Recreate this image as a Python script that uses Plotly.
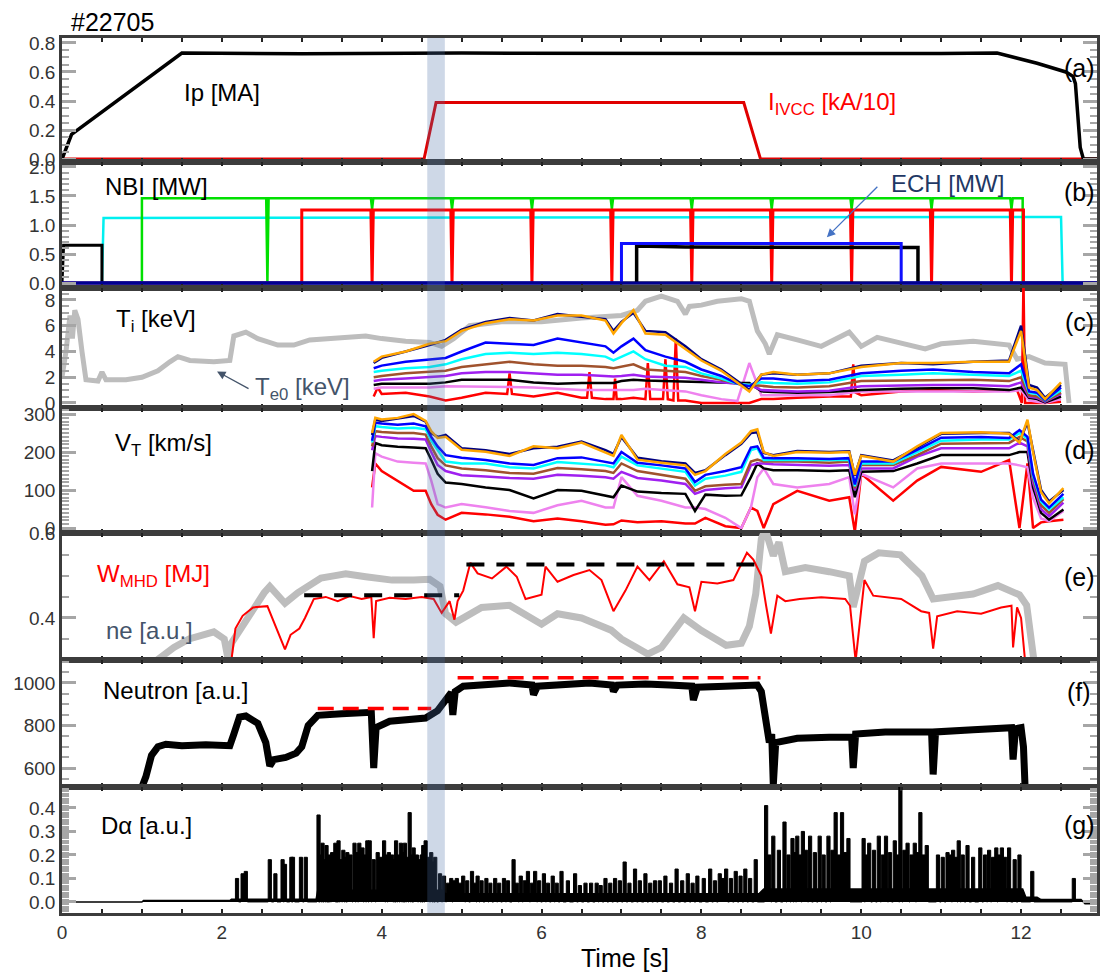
import plotly.graph_objects as go
from plotly.subplots import make_subplots

XMAX = 12.95

# ---------------- (a) plasma current and IVCC current ----------------
ip_t = [0.0, 0.12, 1.5, 3.0, 5.0, 7.0, 9.0, 11.0, 11.7, 12.2, 12.56, 12.65, 12.68, 12.71, 12.74, 12.78, 12.95]
ip_v = [0.0, 0.17, 0.73, 0.725, 0.73, 0.728, 0.73, 0.727, 0.73, 0.66, 0.6, 0.57, 0.52, 0.3, 0.08, 0.0, 0.0]
ivcc_t = [0.0, 4.53, 4.68, 8.53, 8.74, 12.95]
ivcc_v = [0.0, 0.0, 0.39, 0.39, 0.0, 0.0]

# ---------------- (b) NBI / ECH powers ----------------
nb_black_t = [0.0, 0.02, 0.5, 0.5, 12.95]
nb_black_v = [0.0, 0.65, 0.65, 0.0, 0.0]
nb_cyan_t = [0.0, 0.5, 0.52, 6.0, 12.5, 12.52, 12.95]
nb_cyan_v = [0.0, 0.0, 1.12, 1.13, 1.14, 0.0, 0.0]
nb_green_on, nb_green_off, nb_green_lvl = 1.0, 12.02, 1.46
nb_green_notch_t = [2.57, 3.88, 4.88, 5.88, 6.88, 7.88, 8.88, 9.88, 10.88, 11.88]
nb_green_notch_v = [0.0, 1.28, 1.28, 1.28, 1.28, 1.28, 1.28, 1.28, 1.28, 1.28]
nb_red_on, nb_red_off, nb_red_lvl = 3.0, 12.03, 1.26
nb_red_notch_t = [3.88, 4.88, 5.88, 6.88, 7.88, 8.88, 9.88, 10.88, 11.88]
nb_red_notch_v = [0.0, 0.0, 0.0, 0.0, 0.0, 0.0, 0.0, 0.0, 0.0]
ech_blue_t = [0.0, 7.0, 7.0, 10.5, 10.5, 12.95]
ech_blue_v = [0.0, 0.0, 0.68, 0.68, 0.0, 0.0]
ech_black_t = [7.19, 7.19, 7.8, 8.5, 9.3, 10.0, 10.71, 10.71]
ech_black_v = [0.0, 0.64, 0.62, 0.62, 0.61, 0.61, 0.61, 0.0]
nb_base_t = [0.0, 12.95]
nb_base_v = [0.0, 0.0]

# ---------------- (c) Ti profiles and Te0 ----------------
te_t = [0.0, 0.05, 0.1, 0.13, 0.16, 0.2, 0.25, 0.3, 0.45, 0.5, 0.55, 0.8, 1.0, 1.2, 1.35, 1.45, 1.6, 1.9,
        2.1, 2.15, 2.3, 2.45, 2.7, 2.9, 3.1, 3.3, 3.5, 3.8, 4.0, 4.3, 4.6, 4.75, 4.9, 5.1, 5.5, 6.0, 6.5,
        7.0, 7.2, 7.3, 7.5, 7.7, 7.8, 7.85, 8.0, 8.2, 8.5, 8.6, 8.7, 8.8, 8.85, 8.95, 9.2, 9.5, 9.85,
        10.0, 10.2, 10.5, 10.8, 11.0, 11.4, 11.85, 11.95, 12.1, 12.3, 12.55, 12.6]
te_v = [2.0, 4.0, 6.8, 5.0, 7.2, 6.5, 4.0, 1.8, 1.7, 2.4, 1.8, 1.8, 2.0, 2.5, 3.2, 3.6, 3.3, 3.2,
        3.3, 5.2, 5.5, 5.0, 4.5, 4.5, 4.9, 5.0, 5.1, 5.2, 5.0, 4.8, 4.7, 4.4, 5.0, 6.0, 6.3, 6.3, 6.6,
        6.8, 7.2, 7.9, 8.3, 7.9, 6.9, 7.5, 7.6, 7.9, 8.1, 7.9, 5.6, 4.6, 3.8, 5.3, 4.9, 4.4, 5.5,
        4.4, 5.1, 4.6, 4.2, 4.6, 4.8, 4.5, 3.4, 3.6, 3.1, 3.0, 0.0]

ti_t = [3.9, 4.0, 4.3, 4.6, 4.8, 5.0, 5.3, 5.6, 5.9, 6.2, 6.5, 6.8, 6.9, 7.0, 7.15, 7.3, 7.55, 7.8,
        8.0, 8.25, 8.45, 8.6, 8.75, 8.9, 9.2, 9.6, 10.0, 10.5, 10.9, 11.4, 11.85, 12.0, 12.1, 12.2, 12.3, 12.5]
ti_orange = [3.2, 3.6, 4.0, 4.6, 4.8, 5.6, 6.2, 6.5, 6.4, 6.8, 6.8, 6.4, 5.4, 6.2, 7.2, 5.4, 5.3, 4.2,
             3.3, 2.5, 1.6, 0.9, 2.2, 2.4, 2.2, 2.3, 2.8, 3.1, 3.1, 3.2, 3.2, 5.6, 1.2, 1.0, 0.3, 1.6]
ti_navy = [3.1, 3.5, 4.0, 4.5, 4.9, 5.7, 6.3, 6.6, 6.4, 6.9, 6.7, 6.5, 5.6, 6.3, 7.0, 5.6, 5.5, 4.4,
           3.4, 2.6, 1.7, 1.0, 2.2, 2.3, 2.2, 2.3, 2.9, 3.1, 3.0, 3.2, 3.3, 6.0, 1.4, 1.2, 0.4, 1.4]
ti_blue = [2.7, 2.9, 3.2, 3.4, 3.5, 4.0, 4.7, 4.6, 4.5, 5.0, 4.7, 4.4, 3.9, 4.4, 5.0, 4.1, 3.6, 3.2,
           2.6, 2.1, 1.5, 1.3, 1.9, 1.9, 1.7, 1.8, 2.3, 2.5, 2.6, 2.4, 2.3, 3.0, 0.9, 0.8, 0.2, 1.2]
ti_cyan = [2.4, 2.5, 2.7, 2.8, 3.0, 3.4, 3.8, 3.9, 3.8, 3.9, 3.8, 3.6, 3.3, 3.6, 4.0, 3.4, 2.9, 2.8,
           2.3, 1.9, 1.5, 1.4, 1.6, 1.55, 1.5, 1.6, 2.1, 2.2, 2.3, 2.2, 2.1, 2.5, 0.8, 0.7, 0.2, 1.0]
ti_brown = [2.0, 2.1, 2.3, 2.4, 2.5, 2.8, 3.0, 3.2, 3.0, 2.9, 2.9, 2.8, 2.7, 2.8, 3.0, 2.6, 2.5, 2.4,
            2.1, 1.8, 1.5, 1.4, 1.3, 1.25, 1.2, 1.3, 1.7, 1.75, 1.8, 1.8, 1.7, 2.0, 0.6, 0.5, 0.15, 0.8]
ti_purple = [1.7, 1.8, 1.9, 2.0, 2.1, 2.3, 2.4, 2.4, 2.3, 2.2, 2.2, 2.1, 2.06, 2.1, 2.2, 2.06, 2.0, 1.95,
             1.8, 1.6, 1.5, 1.4, 1.0, 0.95, 0.9, 0.95, 1.3, 1.35, 1.4, 1.4, 1.3, 1.6, 0.5, 0.4, 0.1, 0.7]
ti_black = [1.4, 1.5, 1.5, 1.5, 1.6, 1.8, 1.8, 1.8, 1.6, 1.5, 1.55, 1.55, 1.55, 1.7, 1.8, 1.75, 1.7, 1.7,
            1.65, 1.6, 1.55, 1.55, 0.9, 0.85, 0.8, 0.85, 1.0, 1.1, 1.15, 1.15, 1.0, 1.2, 0.4, 0.3, 0.05, 0.5]
ti_violet = [1.1, 1.2, 1.2, 1.2, 1.3, 1.3, 1.3, 1.25, 1.2, 1.1, 1.0, 1.0, 1.0, 1.0, 1.0, 1.1, 1.0, 0.9,
             0.6, 0.3, 0.15, 3.1, 0.6, 0.6, 0.6, 0.6, 0.9, 0.9, 0.9, 0.9, 0.9, 1.0, 0.2, 0.1, 0.0, 0.3]
ti_red_t = [3.9, 3.95, 4.0, 4.3, 4.6, 4.8, 5.0, 5.3, 5.57, 5.6, 5.63, 5.9, 6.2, 6.5, 6.57, 6.6, 6.63,
            6.8, 6.9, 6.92, 6.94, 7.0, 7.15, 7.3, 7.33, 7.36, 7.52, 7.55, 7.58, 7.65, 7.68, 7.71, 7.8,
            8.0, 8.25, 8.45, 8.6, 8.75, 8.9, 9.2, 9.6, 9.87, 9.9, 9.93, 10.0, 10.5, 10.9, 11.4, 11.85,
            11.95, 12.01, 12.03, 12.05, 12.1, 12.2, 12.3, 12.5]
ti_red_v = [0.5, 1.2, 0.7, 0.8, 0.5, 0.2, 0.4, 0.8, 0.7, 2.3, 0.7, 0.5, 0.8, 0.4, 0.4, 2.4, 0.4,
            0.3, 0.3, 1.9, 0.3, 0.3, 0.4, 0.3, 3.1, 0.3, 0.3, 3.4, 0.3, 0.2, 5.0, 0.2, 0.2,
            0.0, 0.0, 0.0, 0.0, 0.3, 0.3, 0.4, 0.5, 0.5, 3.0, 0.8, 0.6, 0.9, 1.0, 0.9, 1.0,
            1.0, 0.0, 9.5, 0.0, 0.0, 0.0, 0.0, 0.1]

# ---------------- (d) toroidal rotation ----------------
vt_t = [3.88, 3.92, 4.0, 4.2, 4.4, 4.55, 4.62, 4.7, 4.8, 5.0, 5.3, 5.6, 5.9, 6.2, 6.5, 6.8, 6.9, 7.0,
        7.2, 7.5, 7.8, 7.92, 8.05, 8.3, 8.5, 8.62, 8.7, 8.78, 8.9, 9.2, 9.6, 9.85, 9.92, 10.0, 10.4,
        10.7, 11.0, 11.5, 11.85, 11.98, 12.08, 12.15, 12.25, 12.35, 12.53]
vt_orange = [250, 290, 286, 290, 300, 282, 255, 237, 240, 206, 201, 190, 215, 210, 225, 200, 190, 245,
             180, 172, 165, 140, 150, 195, 225, 255, 260, 200, 190, 200, 198, 200, 140, 190, 175,
             215, 250, 252, 248, 225, 285, 200, 95, 65, 105]
vt_navy = [245, 285, 282, 288, 295, 280, 250, 240, 245, 210, 205, 195, 210, 214, 228, 205, 195, 240,
           185, 176, 170, 145, 152, 192, 222, 250, 252, 198, 192, 203, 200, 202, 138, 192, 178,
           212, 248, 250, 250, 228, 278, 205, 100, 70, 100]
vt_blue = [230, 277, 275, 272, 275, 268, 240, 215, 192, 185, 179, 170, 166, 184, 186, 175, 170, 200,
           172, 165, 157, 121, 140, 150, 160, 212, 215, 185, 184, 184, 182, 184, 115, 175, 175,
           206, 238, 240, 237, 258, 240, 143, 75, 54, 90]
vt_cyan = [225, 268, 266, 262, 264, 260, 230, 206, 175, 170, 170, 160, 157, 174, 170, 165, 160, 188,
           165, 157, 148, 112, 130, 138, 148, 205, 210, 179, 179, 179, 178, 179, 110, 170, 170,
           201, 230, 233, 233, 250, 235, 138, 70, 49, 81]
vt_brown = [215, 255, 253, 250, 250, 246, 215, 184, 165, 157, 152, 145, 143, 158, 155, 150, 145, 170,
            150, 139, 130, 98, 110, 114, 116, 175, 180, 175, 175, 175, 172, 175, 105, 166, 166,
            192, 222, 224, 224, 240, 228, 130, 60, 40, 76]
vt_purple = [205, 242, 240, 236, 235, 233, 200, 166, 150, 139, 136, 132, 130, 140, 138, 134, 130, 148,
             132, 125, 116, 90, 100, 105, 107, 165, 170, 170, 168, 166, 164, 166, 100, 157, 157,
             188, 210, 210, 210, 225, 215, 120, 50, 31, 67]
vt_black = [150, 224, 218, 214, 212, 210, 180, 143, 120, 116, 107, 100, 78, 100, 98, 85, 81, 112,
            96, 92, 90, 45, 88, 85, 86, 134, 170, 157, 152, 152, 150, 152, 81, 148, 150,
            170, 192, 192, 192, 200, 200, 107, 40, 22, 49]
vt_violet = [54, 197, 188, 175, 172, 170, 125, 63, 54, 63, 55, 45, 40, 60, 72, 54, 54, 134,
             85, 72, 54, 54, 50, 27, 0, 54, 134, 157, 116, 107, 116, 134, 36, 143, 107,
             157, 170, 170, 170, 165, 160, 80, 25, 18, 45]
vt_red = [107, 170, 150, 125, 98, 98, 63, 35, 22, 40, 36, 30, 18, 25, 18, 9, 10, 20,
          15, 18, 12, 12, 27, 5, 0, 54, 45, 0, 63, 98, 72, 81, -10, 143, 72,
          125, 161, 148, 179, 0, 170, 0, 15, 18, 22]

# ---------------- (e) stored energy and density ----------------
w_t = [2.12, 2.17, 2.26, 2.39, 2.57, 2.66, 2.72, 2.79, 2.86, 2.97,
       3.04, 3.15, 3.3, 3.45, 3.6, 3.75, 3.87, 3.9, 3.93, 4.1,
       4.3, 4.5, 4.65, 4.75, 4.85, 4.91, 4.95, 5.02, 5.11, 5.2,
       5.38, 5.56, 5.69, 5.8, 6.0, 6.05, 6.2, 6.4, 6.6, 6.75,
       6.9, 7.05, 7.2, 7.35, 7.53, 7.7, 7.85, 7.92, 8.0, 8.2,
       8.4, 8.57, 8.65, 8.75, 8.81, 8.87, 8.95, 9.05, 9.23, 9.5,
       9.8, 9.86, 9.93, 10.04, 10.15, 10.3, 10.5, 10.75, 10.85, 10.9,
       10.95, 11.2, 11.5, 11.75, 11.88, 11.9, 11.95, 12.0, 12.05]
w_v = [0.30, 0.375, 0.405, 0.425, 0.428, 0.385, 0.36, 0.325, 0.36, 0.375,
       0.40, 0.445, 0.45, 0.44, 0.452, 0.445, 0.45, 0.352, 0.44, 0.448,
       0.445, 0.45, 0.445, 0.412, 0.44, 0.396, 0.44, 0.465, 0.531, 0.506,
       0.494, 0.522, 0.498, 0.445, 0.455, 0.522, 0.486, 0.502, 0.514, 0.49,
       0.416, 0.465, 0.522, 0.49, 0.535, 0.48, 0.473, 0.416, 0.486, 0.482,
       0.49, 0.555, 0.539, 0.50, 0.429, 0.363, 0.453, 0.44, 0.445, 0.449,
       0.445, 0.429, 0.298, 0.49, 0.453, 0.449, 0.445, 0.416, 0.412, 0.327,
       0.404, 0.416, 0.41, 0.425, 0.429, 0.33, 0.425, 0.40, 0.298]
ne_t = [1.19, 1.4, 1.59, 1.75, 1.9, 2.03, 2.08, 2.12, 2.35, 2.53,
        2.6, 2.79, 2.95, 3.1, 3.24, 3.4, 3.55, 3.8, 4.13, 4.4,
        4.6, 4.73, 4.8, 4.93, 5.1, 5.25, 5.6, 6.0, 6.2, 6.5,
        6.87, 7.0, 7.33, 7.5, 7.78, 8.0, 8.31, 8.5, 8.6, 8.68,
        8.75, 8.8, 8.9, 8.97, 9.05, 9.3, 9.6, 9.85, 9.9, 10.04,
        10.22, 10.49, 10.76, 10.9, 11.4, 11.71, 11.98, 12.07, 12.16]
ne_v = [0.30, 0.33, 0.35, 0.36, 0.367, 0.35, 0.30, 0.34, 0.41, 0.46,
        0.475, 0.435, 0.46, 0.48, 0.495, 0.50, 0.505, 0.498, 0.49, 0.49,
        0.492, 0.475, 0.41, 0.39, 0.41, 0.425, 0.43, 0.385, 0.41, 0.40,
        0.371, 0.35, 0.314, 0.33, 0.40, 0.37, 0.335, 0.34, 0.38, 0.457,
        0.588, 0.61, 0.548, 0.58, 0.51, 0.52, 0.51, 0.50, 0.426, 0.535,
        0.555, 0.55, 0.50, 0.445, 0.457, 0.477, 0.455, 0.43, 0.30]
w_ref1_t, w_ref1_v = [3.03, 4.97], [0.454, 0.454]
w_ref2_t, w_ref2_v = [5.06, 8.81], [0.527, 0.527]

# ---------------- (f) neutron ----------------
n_t = [1.0, 1.05, 1.12, 1.2, 1.3, 1.5, 1.8, 2.1, 2.15, 2.22,
       2.3, 2.45, 2.55, 2.6, 2.65, 2.8, 2.93, 3.0, 3.08, 3.2,
       3.5, 3.75, 3.87, 3.9, 3.93, 4.1, 4.3, 4.55, 4.7, 4.8,
       4.87, 4.89, 4.92, 5.02, 5.3, 5.6, 5.88, 5.9, 5.95, 6.3,
       6.6, 6.88, 6.9, 6.95, 7.3, 7.6, 7.88, 7.9, 7.95, 8.3,
       8.7, 8.75, 8.8, 8.85, 8.88, 8.9, 8.93, 9.2, 9.6, 9.88,
       9.9, 9.93, 10.3, 10.88, 10.9, 10.93, 11.4, 11.88, 11.9, 11.93,
       12.0, 12.03, 12.05]
n_v = [511, 560, 660, 700, 712, 705, 710, 705, 760, 840,
       845, 810, 720, 610, 640, 650, 670, 700, 800, 848,
       855, 860, 862, 600, 790, 820, 828, 835, 870, 920,
       955, 850, 960, 985, 995, 1000, 990, 945, 985, 995,
       1000, 990, 960, 990, 995, 990, 985, 920, 980, 985,
       990, 960, 850, 720, 760, 520, 720, 740, 745, 745,
       600, 760, 770, 770, 570, 770, 780, 790, 640, 785,
       790, 700, 511]
n_ref1_t, n_ref1_v = [3.2, 4.62], [880, 880]
n_ref2_t, n_ref2_v = [4.95, 8.74], [1025, 1025]

# ---------------- (g) D-alpha ----------------
da_t = [2.19, 2.26, 2.30, 2.60, 2.67, 2.76, 2.79, 2.87, 2.89, 2.99,
        3.05, 3.21, 3.26, 3.31, 3.35, 3.42, 3.46, 3.52, 3.57, 3.66,
        3.72, 3.76, 3.82, 3.85, 3.95, 4.03, 4.09, 4.13, 4.18, 4.24,
        4.29, 4.35, 4.40, 4.44, 4.52, 4.55, 4.62, 4.67, 4.73, 4.78,
        4.87, 4.94, 5.02, 5.13, 5.20, 5.31, 5.42, 5.53, 5.65, 5.74,
        5.83, 5.92, 6.03, 6.14, 6.25, 6.42, 6.55, 6.69, 6.8, 6.92,
        7.04, 7.17, 7.3, 7.42, 7.55, 7.69, 7.83, 7.95, 8.11, 8.23,
        8.31, 8.43, 8.55, 8.68, 8.81, 8.9, 9.04, 9.14, 9.2, 9.27,
        9.36, 9.48, 9.59, 9.68, 9.76, 9.84, 10.03, 10.1, 10.22, 10.31,
        10.42, 10.49, 10.58, 10.67, 10.74, 10.82, 10.96, 11.08, 11.15, 11.22,
        11.33, 11.49, 11.6, 11.69, 11.76, 11.85, 11.98, 12.14, 12.66]
da_v = [0.10, 0.12, 0.13, 0.18, 0.12, 0.18, 0.16, 0.19, 0.19, 0.19,
        0.19, 0.37, 0.25, 0.24, 0.20, 0.25, 0.26, 0.22, 0.21, 0.25,
        0.25, 0.23, 0.26, 0.26, 0.21, 0.26, 0.21, 0.20, 0.26, 0.25,
        0.25, 0.38, 0.23, 0.20, 0.24, 0.26, 0.21, 0.19, 0.12, 0.11,
        0.10, 0.10, 0.11, 0.13, 0.11, 0.10, 0.10, 0.10, 0.18, 0.11,
        0.13, 0.13, 0.12, 0.11, 0.13, 0.12, 0.08, 0.08, 0.10, 0.10,
        0.17, 0.14, 0.12, 0.09, 0.11, 0.14, 0.12, 0.11, 0.14, 0.12,
        0.14, 0.13, 0.14, 0.18, 0.41, 0.28, 0.34, 0.27, 0.28, 0.30,
        0.28, 0.28, 0.28, 0.38, 0.38, 0.27, 0.27, 0.25, 0.28, 0.28,
        0.26, 0.49, 0.25, 0.25, 0.38, 0.24, 0.20, 0.21, 0.22, 0.26,
        0.24, 0.23, 0.22, 0.23, 0.23, 0.23, 0.20, 0.13, 0.10]
da2_t = [3.23, 3.28, 3.33, 3.38, 3.44, 3.49, 3.55, 3.61, 3.69, 3.79,
         3.9, 3.99, 4.06, 4.16, 4.21, 4.27, 4.32, 4.38, 4.47, 4.5,
         4.59, 4.65,
         4.83, 4.9, 4.98, 5.07, 5.17, 5.25, 5.36, 5.47, 5.58, 5.69,
         5.79, 5.88, 5.97, 6.08, 6.19, 6.33, 6.48, 6.62, 6.74, 6.86,
         6.98, 7.1, 7.23, 7.36, 7.48, 7.62, 7.76, 7.89, 8.03, 8.17,
         8.27, 8.37, 8.49, 8.61,
         8.85, 8.97, 9.09, 9.17, 9.24, 9.31, 9.42, 9.53, 9.64, 9.72,
         9.8, 10.06, 10.16, 10.27, 10.36, 10.46, 10.54, 10.63, 10.7, 10.78,
         11.02, 11.12, 11.19, 11.27, 11.4, 11.55, 11.65, 11.72, 11.8, 11.92]
da2_v = [0.2, 0.18, 0.17, 0.21, 0.2, 0.18, 0.19, 0.2, 0.21, 0.2,
         0.18, 0.19, 0.2, 0.18, 0.2, 0.21, 0.19, 0.2, 0.18, 0.2,
         0.19, 0.17,
         0.08, 0.09, 0.08, 0.09, 0.08, 0.09, 0.08, 0.08, 0.09, 0.08,
         0.09, 0.08, 0.09, 0.08, 0.08, 0.09, 0.07, 0.08, 0.07, 0.08,
         0.09, 0.08, 0.09, 0.08, 0.09, 0.08, 0.09, 0.08, 0.1, 0.09,
         0.1, 0.1, 0.11, 0.1,
         0.2, 0.22, 0.2, 0.21, 0.2, 0.22, 0.21, 0.2, 0.22, 0.2,
         0.21, 0.2, 0.22, 0.2, 0.21, 0.2, 0.22, 0.2, 0.21, 0.2,
         0.19, 0.2, 0.19, 0.2, 0.19, 0.2, 0.19, 0.2, 0.19, 0.18]
da_floor_t = [0.0, 1.0, 1.02, 2.1, 2.12, 3.18, 3.2, 4.75, 4.8, 8.72, 8.78, 12.02, 12.06, 12.2, 12.25, 12.75, 12.8, 12.95]
da_floor_v = [0.0, 0.0, 0.006, 0.006, 0.012, 0.012, 0.05, 0.05, 0.035, 0.035, 0.055, 0.055, 0.02, 0.02, 0.01, 0.01, -0.008, -0.008]

band_t0, band_t1 = 4.57, 4.79

# ---------------- figure ----------------
L, R, T, B = 62, 1100, 38, 913
W, H = R - L, B - T
borders = [38, 162, 288, 408, 533, 660, 787, 913]

fig = make_subplots(rows=7, cols=1, shared_xaxes=True, vertical_spacing=0)


def line(row, t, v, color, width, dash=None):
    fig.add_trace(go.Scatter(x=t, y=v, mode='lines', line=dict(color=color, width=width, dash=dash),
                             showlegend=False, hoverinfo='skip'), row=row, col=1)


def notched(t_on, t_off, lvl, nt, nv, w=0.015):
    t = [0.0, t_on, t_on]
    v = [0.0, 0.0, lvl]
    for a, b in zip(nt, nv):
        t += [a - w, a, a + w]
        v += [lvl, b, lvl]
    t += [t_off, t_off, XMAX]
    v += [lvl, 0.0, 0.0]
    return t, v


def spikes(ts, vs, w=0.02):
    pairs = sorted(zip(ts, vs))
    x, y = [], []
    for a, b in pairs:
        x += [a - w, a - w, a + w, a + w]
        y += [0.0, b, b, 0.0]
    return x, y


# (a)
line(1, ivcc_t, ivcc_v, '#e00000', 3)
line(1, ip_t, ip_v, 'black', 3.5)
# (b)
line(2, nb_cyan_t, nb_cyan_v, '#00f0f0', 2.5)
gt, gv = notched(nb_green_on, nb_green_off, nb_green_lvl, nb_green_notch_t, nb_green_notch_v)
line(2, gt, gv, '#00e000', 2.5)
rt, rv = notched(nb_red_on, nb_red_off, nb_red_lvl, nb_red_notch_t, nb_red_notch_v)
line(2, rt, rv, '#ff0000', 3)
line(2, nb_black_t, nb_black_v, 'black', 3)
line(2, ech_black_t, ech_black_v, 'black', 3.5)
line(2, ech_blue_t, ech_blue_v, '#1010ff', 3)
line(2, nb_base_t, nb_base_v, '#000090', 3)
# (c)
line(3, te_t, te_v, '#bdbdbd', 5)
line(3, ti_red_t, ti_red_v, '#ff0000', 2.5)
for vals, col in [(ti_violet, '#ee82ee'), (ti_black, 'black'), (ti_purple, '#a020f0'),
                  (ti_brown, '#a0522d'), (ti_cyan, '#00ffff'), (ti_blue, '#0000ff'),
                  (ti_navy, '#000080'), (ti_orange, '#ffa500')]:
    line(3, ti_t, vals, col, 2.5)
# (d)
for vals, col in [(vt_red, '#ff0000'), (vt_violet, '#ee82ee'), (vt_black, 'black'),
                  (vt_purple, '#a020f0'), (vt_brown, '#a0522d'), (vt_cyan, '#00ffff'),
                  (vt_blue, '#0000ff'), (vt_navy, '#000080'), (vt_orange, '#ffa500')]:
    line(4, vt_t, vals, col, 2.5)
# (e)
line(5, ne_t, ne_v, '#bdbdbd', 7)
line(5, w_t, w_v, '#ff0000', 2)
line(5, w_ref1_t, w_ref1_v, 'black', 4, '18px,12px')
line(5, w_ref2_t, w_ref2_v, 'black', 4, '18px,12px')
# (f)
line(6, n_t, n_v, 'black', 7)
line(6, n_ref1_t, n_ref1_v, '#ff0000', 3.5, '16px,9px')
line(6, n_ref2_t, n_ref2_v, '#ff0000', 3.5, '16px,9px')
# (g)
fig.add_trace(go.Scatter(x=da_floor_t, y=da_floor_v, mode='lines', fill='tozeroy', fillcolor='black',
                         line=dict(color='black', width=1.5), showlegend=False, hoverinfo='skip'), row=7, col=1)
sx, sy = spikes(da_t + da2_t, da_v + da2_v)
fig.add_trace(go.Scatter(x=sx, y=sy, mode='lines', fill='tozeroy', fillcolor='black',
                         line=dict(color='black', width=1), showlegend=False, hoverinfo='skip'), row=7, col=1)

# axes
yspecs = [
    dict(range=[-0.02, 0.834], tick0=0, dtick=0.2, tickformat='.1f', minor=0.05),
    dict(range=[-0.086, 2.086], tick0=0, dtick=0.5, tickformat='.1f', minor=0.1),
    dict(range=[-0.39, 8.93], tick0=0, dtick=2, tickformat='d', minor=0.5),
    dict(range=[-13, 316], tick0=0, dtick=100, tickformat='d', minor=10),
    dict(range=[0.3, 0.602], tick0=0.4, dtick=0.2, tickformat='.1f', minor=0.05),
    dict(range=[511, 1108], tick0=600, dtick=200, tickformat='d', minor=50),
    dict(range=[-0.047, 0.489], tick0=0, dtick=0.1, tickformat='.1f', minor=0.01),
]
axcol = '#3c3c3c'
tickgray = '#a6a6a6'
for i in range(7):
    sfx = '' if i == 0 else str(i + 1)
    top, bot = borders[i], borders[i + 1]
    dom = [(B - bot) / H, (B - top) / H]
    s = yspecs[i]
    fig.layout['yaxis' + sfx].update(
        domain=dom, range=s['range'], tickmode='linear', tick0=s['tick0'], dtick=s['dtick'],
        tickformat=s['tickformat'], ticks='inside', ticklen=14, tickwidth=2.5, tickcolor=tickgray,
        minor=dict(dtick=s['minor'], tick0=s['tick0'], ticks='inside', ticklen=7, tickwidth=2, tickcolor=tickgray),
        showline=True, linecolor=axcol, linewidth=2.5, mirror='allticks', zeroline=False, showgrid=False,
        tickfont=dict(size=19, color='#333333'), fixedrange=True)
    fig.layout['xaxis' + sfx].update(
        range=[0, XMAX], tickmode='linear', tick0=0, dtick=2, ticks='inside', ticklen=4, tickwidth=2,
        tickcolor='#222222', minor=dict(dtick=0.5, tick0=0, ticks='inside', ticklen=4, tickwidth=2, tickcolor='#222222'),
        showline=True, linecolor=axcol, linewidth=2.5, mirror='allticks', zeroline=False, showgrid=False,
        showticklabels=(i == 6), tickfont=dict(size=19, color='#333333'), fixedrange=True)

fig.add_shape(type='rect', xref='x7', yref='paper', x0=band_t0, x1=band_t1, y0=0, y1=1,
              fillcolor='rgba(74,111,167,0.27)', line=dict(width=0), layer='above')


def px(x, y):
    return (x - L) / W, (B - y) / H


anns = []


def label(text, x, y, color='black', size=24, xanchor='left'):
    ax_, ay_ = px(x, y)
    anns.append(dict(text=text, x=ax_, y=ay_, xref='paper', yref='paper', xanchor=xanchor, yanchor='middle',
                     showarrow=False, font=dict(size=size, color=color)))


label('#22705', 69, 22, size=25)
label('Ip [MA]', 182, 92)
label('I<sub>IVCC</sub> [kA/10]', 768, 103, color='#ff0000')
label('NBI [MW]', 103, 186)
label('ECH [MW]', 891, 184, color='#1f3864')
label('T<sub>i</sub> [keV]', 114, 320)
label('T<sub>e0</sub> [keV]', 254, 388, color='#44546a')
label('V<sub>T</sub> [km/s]', 113, 444)
label('W<sub>MHD</sub> [MJ]', 95, 575, color='#ff0000')
label('ne [a.u.]', 104, 630, color='#44546a')
label('Neutron [a.u.]', 101, 690)
label('D\u03b1 [a.u.]', 99, 825)
label('Time [s]', 627, 958, size=25, xanchor='center')
for t_, y_ in [('(a)', 68), ('(b)', 192), ('(c)', 322), ('(d)', 450), ('(e)', 577), ('(f)', 692), ('(g)', 825)]:
    label(t_, 1082, y_, size=25, xanchor='center')

# arrows
anns.append(dict(x=9.57, y=0.79, xref='x2', yref='y2', text='', showarrow=True, ax=52, ay=-52,
                 arrowhead=2, arrowsize=1.3, arrowwidth=1.3, arrowcolor='#4472c4'))
anns.append(dict(x=1.94, y=2.45, xref='x3', yref='y3', text='', showarrow=True, ax=33, ay=18,
                 arrowhead=2, arrowsize=1.3, arrowwidth=1.3, arrowcolor='#44546a'))

fig.update_layout(width=1108, height=975, margin=dict(l=L, r=1108 - R, t=T, b=975 - B),
                  plot_bgcolor='white', paper_bgcolor='white', showlegend=False,
                  font=dict(family='Liberation Sans, Arial, Helvetica, sans-serif', size=19, color='#333333'),
                  annotations=anns)

fig.write_html('out.html', config={'displayModeBar': False},
               post_script="document.body.style.margin='0';document.body.style.overflow='hidden';")
